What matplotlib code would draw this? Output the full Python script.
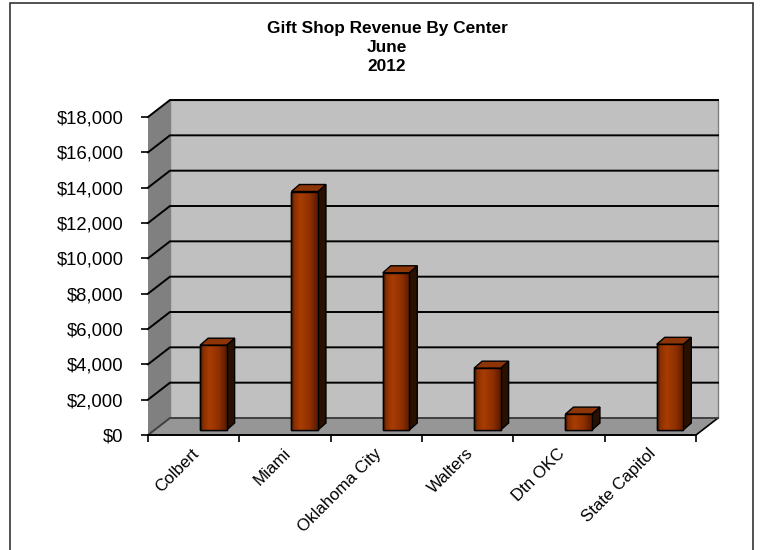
import numpy as np
import matplotlib
matplotlib.use("Agg")
import matplotlib.pyplot as plt
from matplotlib.patches import Polygon, Rectangle
from matplotlib.colors import LinearSegmentedColormap
from matplotlib.transforms import ScaledTranslation
from matplotlib.ticker import FuncFormatter, FixedLocator

plt.rcParams["font.family"] = ["Liberation Sans", "DejaVu Sans"]

# ---- data ----
centers = ["Colbert", "Miami", "Oklahoma City", "Walters", "Dtn OKC", "State Capitol"]
revenue = [4800, 13500, 8900, 3500, 900, 4850]
yticks = list(range(0, 18001, 2000))
title = "Gift Shop Revenue By Center\nJune\n2012"

# ---- figure / axes (pixel layout of the Excel 3-D column chart) ----
W, H, DPI = 760, 550, 100
fig = plt.figure(figsize=(W / DPI, H / DPI), dpi=DPI)
x0px, x1px, ybot, ytop = 148, 696, 435, 117
ax = fig.add_axes([x0px / W, 1 - ybot / H, (x1px - x0px) / W, (ybot - ytop) / H])
n = len(centers)
ax.set_xlim(-0.5, n - 0.5)
ax.set_ylim(0, 18000)
ax.set_facecolor("none")

ux = n / (x1px - x0px)          # data x-units per pixel
uy = 18000 / (ybot - ytop)      # data y-units per pixel
DX, DY = 22 * ux, 17 * uy       # wall depth
L, R = -0.5, n - 0.5

# walls and floor
ax.add_patch(Rectangle((L + DX, DY), n, 18000, facecolor="#c0c0c0",
                       edgecolor="#808080", lw=1, clip_on=False, zorder=0))
ax.add_patch(Polygon([(L, 0), (L, 18000), (L + DX, 18000 + DY), (L + DX, DY)],
                     closed=True, facecolor="#808080", edgecolor="none", clip_on=False, zorder=0))
ax.add_patch(Polygon([(L, 0), (R, 0), (R + DX, DY), (L + DX, DY)],
                     closed=True, facecolor="#969696", edgecolor="none", clip_on=False, zorder=0))
ax.plot([R, R + DX], [0, DY], color="black", lw=1.2, clip_on=False, zorder=1)
for v in yticks:
    c = "#404040" if v == 0 else "black"
    ax.plot([L, L + DX, R + DX], [v, v + DY, v + DY], color=c, lw=1.4,
            clip_on=False, zorder=1, solid_joinstyle="miter")

# bars: front face shifted in depth, with gradient, side and top faces
shift = ScaledTranslation(19.7 / DPI, 5 / DPI, fig.dpi_scale_trans)
bar_tr = ax.transData + shift
bw = 26.5 * ux
bdx, bdy = 8 * ux, 7 * uy
cmap = LinearSegmentedColormap.from_list(
    "col", [(0, "#3d1200"), (0.12, "#8a3000"), (0.35, "#a83d03"),
            (0.7, "#8f3000"), (1, "#581a00")])
grad = np.linspace(0, 1, 64).reshape(1, -1)
xs = np.arange(n)
bars = ax.bar(xs, revenue, width=bw, color="#993300", edgecolor="black",
              lw=1, transform=bar_tr, zorder=3, clip_on=False)
for xi, v, b in zip(xs, revenue, bars):
    a, c = xi - bw / 2, xi + bw / 2
    im = ax.imshow(grad, cmap=cmap, aspect="auto", extent=[a, c, 0, v],
                   zorder=3.5, interpolation="bilinear")
    im.set_transform(bar_tr)
    im.set_clip_path(b)
    ax.add_patch(Polygon([(c, 0), (c + bdx, bdy), (c + bdx, v + bdy), (c, v)], closed=True,
                         facecolor="#2a1000", edgecolor="black", lw=1,
                         transform=bar_tr, zorder=3, clip_on=False))
    ax.add_patch(Polygon([(a, v), (c, v), (c + bdx, v + bdy), (a + bdx, v + bdy)], closed=True,
                         facecolor="#8e3508", edgecolor="black", lw=1,
                         transform=bar_tr, zorder=3, clip_on=False))
    ax.add_patch(Rectangle((a, 0), bw, v, facecolor="none", edgecolor="black", lw=1,
                           transform=bar_tr, zorder=4, clip_on=False))
ax.set_xlim(-0.5, n - 0.5)
ax.set_ylim(0, 18000)

# axes, ticks and labels
for s in ["top", "right", "left"]:
    ax.spines[s].set_visible(False)
ax.spines["bottom"].set_linewidth(1.4)
ax.spines["bottom"].set_zorder(2)
ax.set_yticks(yticks)
ax.yaxis.set_major_formatter(FuncFormatter(lambda v, p: f"${v:,.0f}"))
ax.tick_params(axis="y", length=5, width=1.2, pad=12.5, labelsize=13.3, colors="black")
ax.set_xticks(xs)
ax.set_xticklabels(centers, rotation=45, ha="right", va="center", rotation_mode="anchor")
ax.xaxis.set_minor_locator(FixedLocator(np.arange(-0.5, n, 1.0)))
ax.tick_params(axis="x", which="major", length=0, pad=11.5, labelsize=12.2)
ax.tick_params(axis="x", which="minor", length=5, width=1.2)
for lbl in ax.get_xticklabels():
    lbl.set_transform(lbl.get_transform() + ScaledTranslation(3 / DPI, 0, fig.dpi_scale_trans))

fig.text(387 / W, 1 - 21.5 / H, title, ha="center", va="top", fontsize=12.4,
         fontweight="bold", linespacing=1.3)

# chart border
fig.add_artist(Rectangle((10 / W, -0.05), 743 / W, 1 - 3 / H + 0.05, transform=fig.transFigure,
                         facecolor="none", edgecolor="#333333", lw=1.2))

fig.savefig("out.png", dpi=DPI)
